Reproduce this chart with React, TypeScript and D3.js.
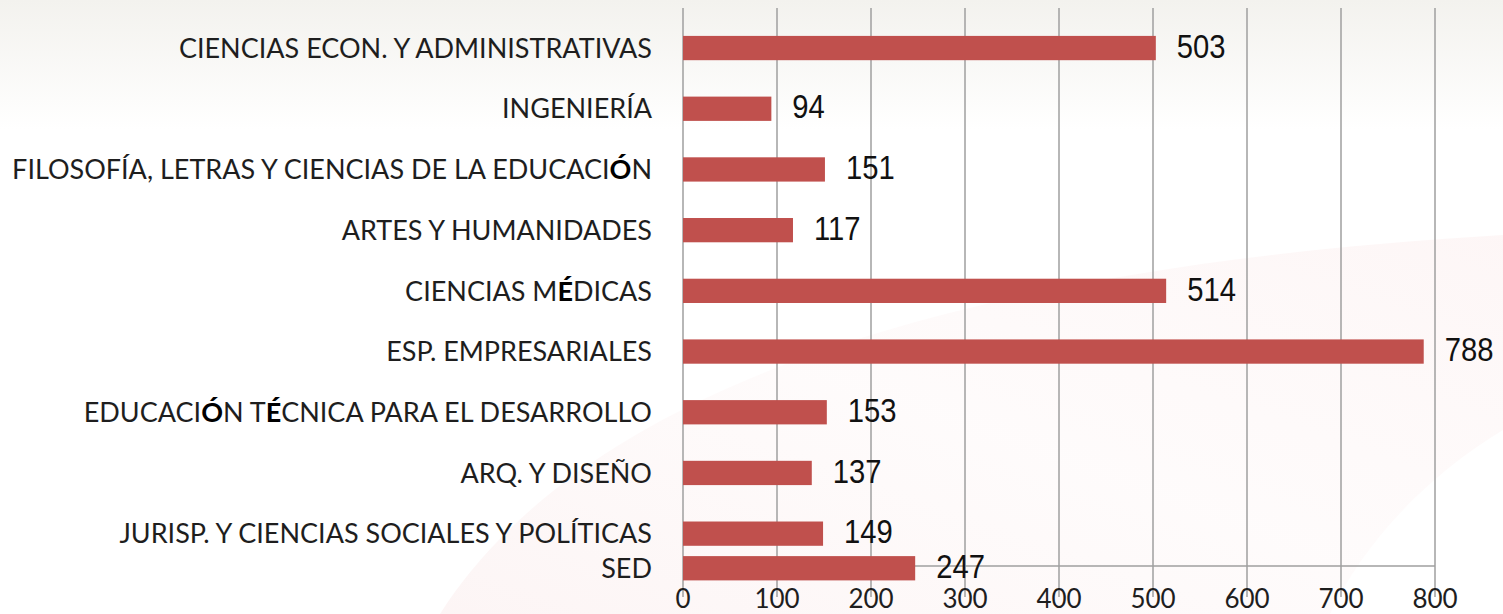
import * as d3 from "d3";

// faculties, top to bottom
const categories = [
  "CIENCIAS ECON. Y ADMINISTRATIVAS",
  "INGENIERÍA",
  "FILOSOFÍA, LETRAS Y CIENCIAS DE LA EDUCACIÓN",
  "ARTES Y HUMANIDADES",
  "CIENCIAS MÉDICAS",
  "ESP. EMPRESARIALES",
  "EDUCACIÓN TÉCNICA PARA EL DESARROLLO",
  "ARQ. Y DISEÑO",
  "JURISP. Y CIENCIAS SOCIALES Y POLÍTICAS",
  "SED",
];
const values = [503, 94, 151, 117, 514, 788, 153, 137, 149, 247];
const xTicks = [0, 100, 200, 300, 400, 500, 600, 700, 800];

const W = 1503;
const H = 614;
const BAR = "#C0504D";
const GRID = "#9f9f9f";

// the accented Ó / É show up heavier in the source slide
const splitAccents = (s: string) => s.split(/([ÓÉ])/).filter((p) => p !== "");

export default function App() {
  const x = d3.scaleLinear().domain([0, 800]).range([683, 1435]);
  // the main 9 rows share a band scale; SED is squeezed in under the last row
  const y = d3
    .scaleBand<string>()
    .domain(categories.slice(0, 9))
    .range([17.7, 564])
    .paddingInner(0.6)
    .paddingOuter(0.3);
  const bw = y.bandwidth();
  const rowTop = (i: number) =>
    i < 9 ? (y(categories[i]) as number) : (y(categories[8]) as number) + y.step() * 0.57;

  const axisY = 566;
  const gridTop = 8;
  const gridBottom = 597;

  return (
    <svg
      width={W}
      height={H}
      style={{ position: "absolute", left: 0, top: 0, display: "block" }}
    >
      <defs>
        <linearGradient id="topfade" x1="0" y1="0" x2="0" y2="1">
          <stop offset="0" stopColor="#f3f2ee" />
          <stop offset="1" stopColor="#ffffff" />
        </linearGradient>
        <linearGradient id="swoosh" x1="0" y1="1" x2="1" y2="0">
          <stop offset="0" stopColor="#f8e2e2" stopOpacity="0.35" />
          <stop offset="0.5" stopColor="#fcf0f0" stopOpacity="0.25" />
          <stop offset="1" stopColor="#fae6e6" stopOpacity="0.35" />
        </linearGradient>
      </defs>
      <rect width={W} height={H} fill="#ffffff" />
      <rect width={W} height={130} fill="url(#topfade)" />
      <path
        d="M 440 614 C 570 410, 900 270, 1503 235 L 1503 430 C 1420 480, 1360 550, 1330 614 Z"
        fill="url(#swoosh)"
      />

      {/* gridlines */}
      {xTicks.map((t) => (
        <line
          key={"g" + t}
          x1={x(t)}
          x2={x(t)}
          y1={gridTop}
          y2={gridBottom}
          stroke={GRID}
          strokeWidth={1.5}
        />
      ))}
      <line x1={x(0)} x2={x(800)} y1={axisY} y2={axisY} stroke={GRID} strokeWidth={1.5} />

      {/* bars */}
      {values.map((v, i) => (
        <rect
          key={"b" + i}
          x={x(0)}
          y={rowTop(i)}
          width={x(v) - x(0)}
          height={bw}
          fill={BAR}
        />
      ))}

      {/* value labels */}
      {values.map((v, i) => (
        <text
          key={"v" + i}
          transform={`translate(${x(v) + 21},${rowTop(i) + bw / 2 - 2.5}) scale(0.86,1)`}
          dy="0.36em"
          fontFamily="'Liberation Sans', Arial, sans-serif"
          fontSize={34}
          fill="#111"
        >
          {v}
        </text>
      ))}

      {/* category labels */}
      {categories.map((c, i) => (
        <text
          key={"c" + i}
          x={652}
          y={rowTop(i) + bw / 2}
          dy="0.36em"
          textAnchor="end"
          fontFamily="Lato, 'Liberation Sans', sans-serif"
          fontSize={27}
          fill="#1e1e1e"
        >
          {splitAccents(c).map((p, k) =>
            p === "Ó" || p === "É" ? (
              <tspan key={k} fontWeight={700} fill="#000">
                {p}
              </tspan>
            ) : (
              <tspan key={k}>{p}</tspan>
            )
          )}
        </text>
      ))}

      {/* tick labels */}
      {xTicks.map((t) => (
        <text
          key={"t" + t}
          x={x(t)}
          y={599}
          dy="0.36em"
          textAnchor="middle"
          fontFamily="Lato, 'Liberation Sans', sans-serif"
          fontSize={26}
          fill="#1e1e1e"
        >
          {t}
        </text>
      ))}
    </svg>
  );
}
